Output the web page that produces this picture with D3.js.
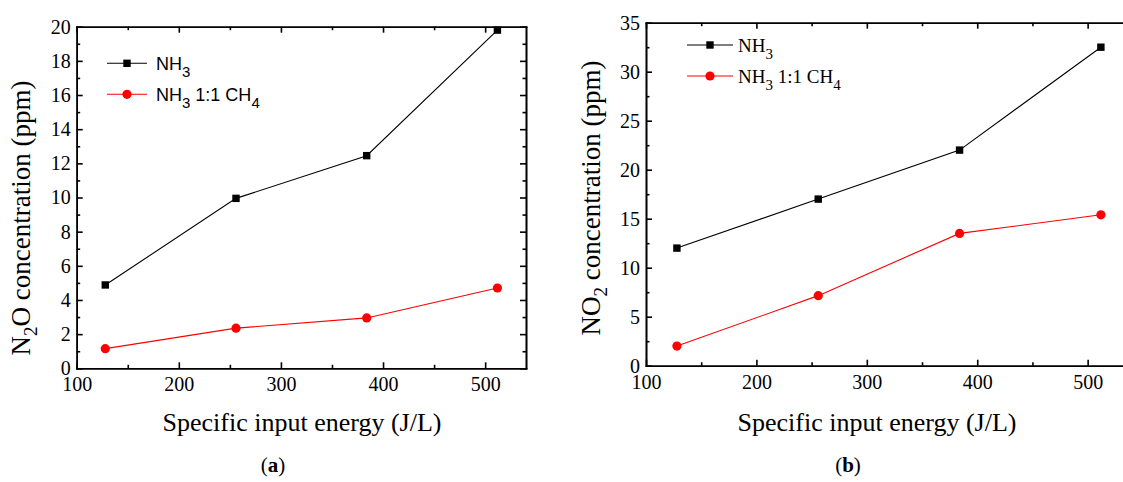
<!doctype html>
<html>
<head>
<meta charset="utf-8">
<style>
    body { margin: 0; background: #fff; }
    svg { display: block; }
    .domain, .tick line { stroke: #000; stroke-width: 1.6; }
</style>
<script src="https://cdn.jsdelivr.net/npm/d3@7"></script>
</head>
<body>
<svg width="1123" height="482"></svg>
<script>
    // data
    const energy = [128, 256, 384, 512];
    const xTickLabels = [100, 200, 300, 400, 500];
    const xMinor = [150, 250, 350, 450];

    const n2oTicks = [0, 2, 4, 6, 8, 10, 12, 14, 16, 18, 20];
    const n2oMinor = [1, 3, 5, 7, 9, 11, 13, 15, 17, 19];
    const n2oNH3 = [4.88, 9.95, 12.45, 19.8];
    const n2oMix = [1.15, 2.35, 2.95, 4.7];

    const no2Ticks = [0, 5, 10, 15, 20, 25, 30, 35];
    const no2Minor = [2.5, 7.5, 12.5, 17.5, 22.5, 27.5, 32.5];
    const no2NH3 = [12, 17, 22, 32.5];
    const no2Mix = [2, 7.15, 13.5, 15.4];

    // label pieces: even index normal, odd index subscript
    const nameNH3 = ['NH', '3'];
    const nameMix = ['NH', '3', ' 1:1 CH', '4'];

    const SERIF = "'Liberation Serif', 'Times New Roman', Times, serif";
    const SANS = "'Liberation Sans', Arial, Helvetica, sans-serif";

    const svg = d3.select('svg');

    const panels = [
        {
            left: 76.7, right: 526, top: 26.7, bottom: 368.3,
            yMax: 20, yTicks: n2oTicks, yMinor: n2oMinor,
            black: n2oNH3, red: n2oMix,
            legend: { x1: 107, x2: 147, tx: 156, y: [63.3, 94.3], font: SANS, size: 18, sub: 15 },
            yTitle: ['N', '2', 'O concentration (ppm)'], yTitleX: 30, yTitleY: 218,
            xTitleX: 302, tag: 'a', tagX: 273
        },
        {
            left: 646, right: 1131.8, top: 22.7, bottom: 365.7,
            yMax: 35, yTicks: no2Ticks, yMinor: no2Minor,
            black: no2NH3, red: no2Mix,
            legend: { x1: 687, x2: 733, tx: 738, y: [45, 76], font: SERIF, size: 19, sub: 15 },
            yTitle: ['NO', '2', ' concentration (ppm)'], yTitleX: 600, yTitleY: 198,
            xTitleX: 877, tag: 'b', tagX: 848
        }
    ];

    function addPieces(text, pieces, size, subSize, shift) {
        pieces.forEach((p, i) => {
            const isSub = i % 2 === 1;
            const prevSub = i > 0 && (i - 1) % 2 === 1;
            text.append('tspan')
                .attr('font-size', isSub ? subSize : size)
                .attr('dy', isSub ? shift : (prevSub ? -shift : 0))
                .text(p);
        });
    }

    panels.forEach(p => {
        const x = d3.scaleLinear().domain([100, 540]).range([p.left, p.right]);
        const y = d3.scaleLinear().domain([0, p.yMax]).range([p.bottom, p.top]);
        const g = svg.append('g');

        // major + minor ticks on all four sides, pointing inwards
        g.append('g').attr('transform', `translate(0,${p.bottom})`)
            .call(d3.axisBottom(x).tickValues(xTickLabels).tickSizeInner(-6).tickSizeOuter(0).tickPadding(9));
        g.append('g').attr('transform', `translate(0,${p.bottom})`)
            .call(d3.axisBottom(x).tickValues(xMinor).tickSizeInner(-3.5).tickSizeOuter(0).tickFormat(''));
        g.append('g').attr('transform', `translate(0,${p.top})`)
            .call(d3.axisTop(x).tickValues(xTickLabels).tickSizeInner(-6).tickSizeOuter(0).tickFormat(''));
        g.append('g').attr('transform', `translate(0,${p.top})`)
            .call(d3.axisTop(x).tickValues(xMinor).tickSizeInner(-3.5).tickSizeOuter(0).tickFormat(''));

        g.append('g').attr('transform', `translate(${p.left},0)`)
            .call(d3.axisLeft(y).tickValues(p.yTicks).tickSizeInner(-6).tickSizeOuter(0).tickPadding(6));
        g.append('g').attr('transform', `translate(${p.left},0)`)
            .call(d3.axisLeft(y).tickValues(p.yMinor).tickSizeInner(-3.5).tickSizeOuter(0).tickFormat(''));
        g.append('g').attr('transform', `translate(${p.right},0)`)
            .call(d3.axisRight(y).tickValues(p.yTicks).tickSizeInner(-6).tickSizeOuter(0).tickFormat(''));
        g.append('g').attr('transform', `translate(${p.right},0)`)
            .call(d3.axisRight(y).tickValues(p.yMinor).tickSizeInner(-3.5).tickSizeOuter(0).tickFormat(''));

        g.selectAll('.domain').attr('stroke-linecap', 'square');
        g.selectAll('.tick text')
            .attr('font-family', SERIF)
            .attr('font-size', 20)
            .attr('fill', '#000');

        const line = d3.line().x((d, i) => x(energy[i])).y(d => y(d));

        // NH3 series
        g.append('path').datum(p.black)
            .attr('d', line).attr('fill', 'none').attr('stroke', '#000').attr('stroke-width', 1.1);
        g.selectAll('.sq').data(p.black).enter().append('rect')
            .attr('x', (d, i) => x(energy[i]) - 3.7)
            .attr('y', d => y(d) - 3.7)
            .attr('width', 7.4).attr('height', 7.4)
            .attr('fill', '#000');

        // NH3 1:1 CH4 series
        g.append('path').datum(p.red)
            .attr('d', line).attr('fill', 'none').attr('stroke', '#ff0000').attr('stroke-width', 1.1);
        g.selectAll('.dot').data(p.red).enter().append('circle')
            .attr('cx', (d, i) => x(energy[i]))
            .attr('cy', d => y(d))
            .attr('r', 4.6)
            .attr('fill', '#ff0000');

        // legend
        const L = p.legend;
        [[nameNH3, '#000', 'sq'], [nameMix, '#ff0000', 'dot']].forEach((item, k) => {
            const ly = L.y[k];
            const mx = (L.x1 + L.x2) / 2;
            g.append('line').attr('x1', L.x1).attr('x2', L.x2).attr('y1', ly).attr('y2', ly)
                .attr('stroke', item[1]).attr('stroke-width', 1.1);
            if (item[2] === 'sq') {
                g.append('rect').attr('x', mx - 3.7).attr('y', ly - 3.7).attr('width', 7.4).attr('height', 7.4).attr('fill', item[1]);
            } else {
                g.append('circle').attr('cx', mx).attr('cy', ly).attr('r', 4.6).attr('fill', item[1]);
            }
            const t = g.append('text').attr('x', L.tx).attr('y', ly + 6.5)
                .attr('font-family', L.font).attr('fill', '#000');
            addPieces(t, item[0], L.size, L.sub, 7);
        });

        // axis titles
        const yt = g.append('text')
            .attr('font-family', SERIF).attr('fill', '#000')
            .attr('transform', `translate(${p.yTitleX},${p.yTitleY}) rotate(-90)`)
            .attr('text-anchor', 'middle');
        addPieces(yt, p.yTitle, 27, 19, 7);

        g.append('text')
            .attr('font-family', SERIF).attr('fill', '#000')
            .attr('x', p.xTitleX).attr('y', 431)
            .attr('text-anchor', 'middle').attr('font-size', 26)
            .text('Specific input energy (J/L)');

        const tag = g.append('text')
            .attr('font-family', SERIF).attr('fill', '#000')
            .attr('x', p.tagX).attr('y', 472)
            .attr('text-anchor', 'middle').attr('font-size', 21);
        tag.append('tspan').text('(');
        tag.append('tspan').attr('font-weight', 'bold').text(p.tag);
        tag.append('tspan').text(')');
    });
</script>
</body>
</html>
